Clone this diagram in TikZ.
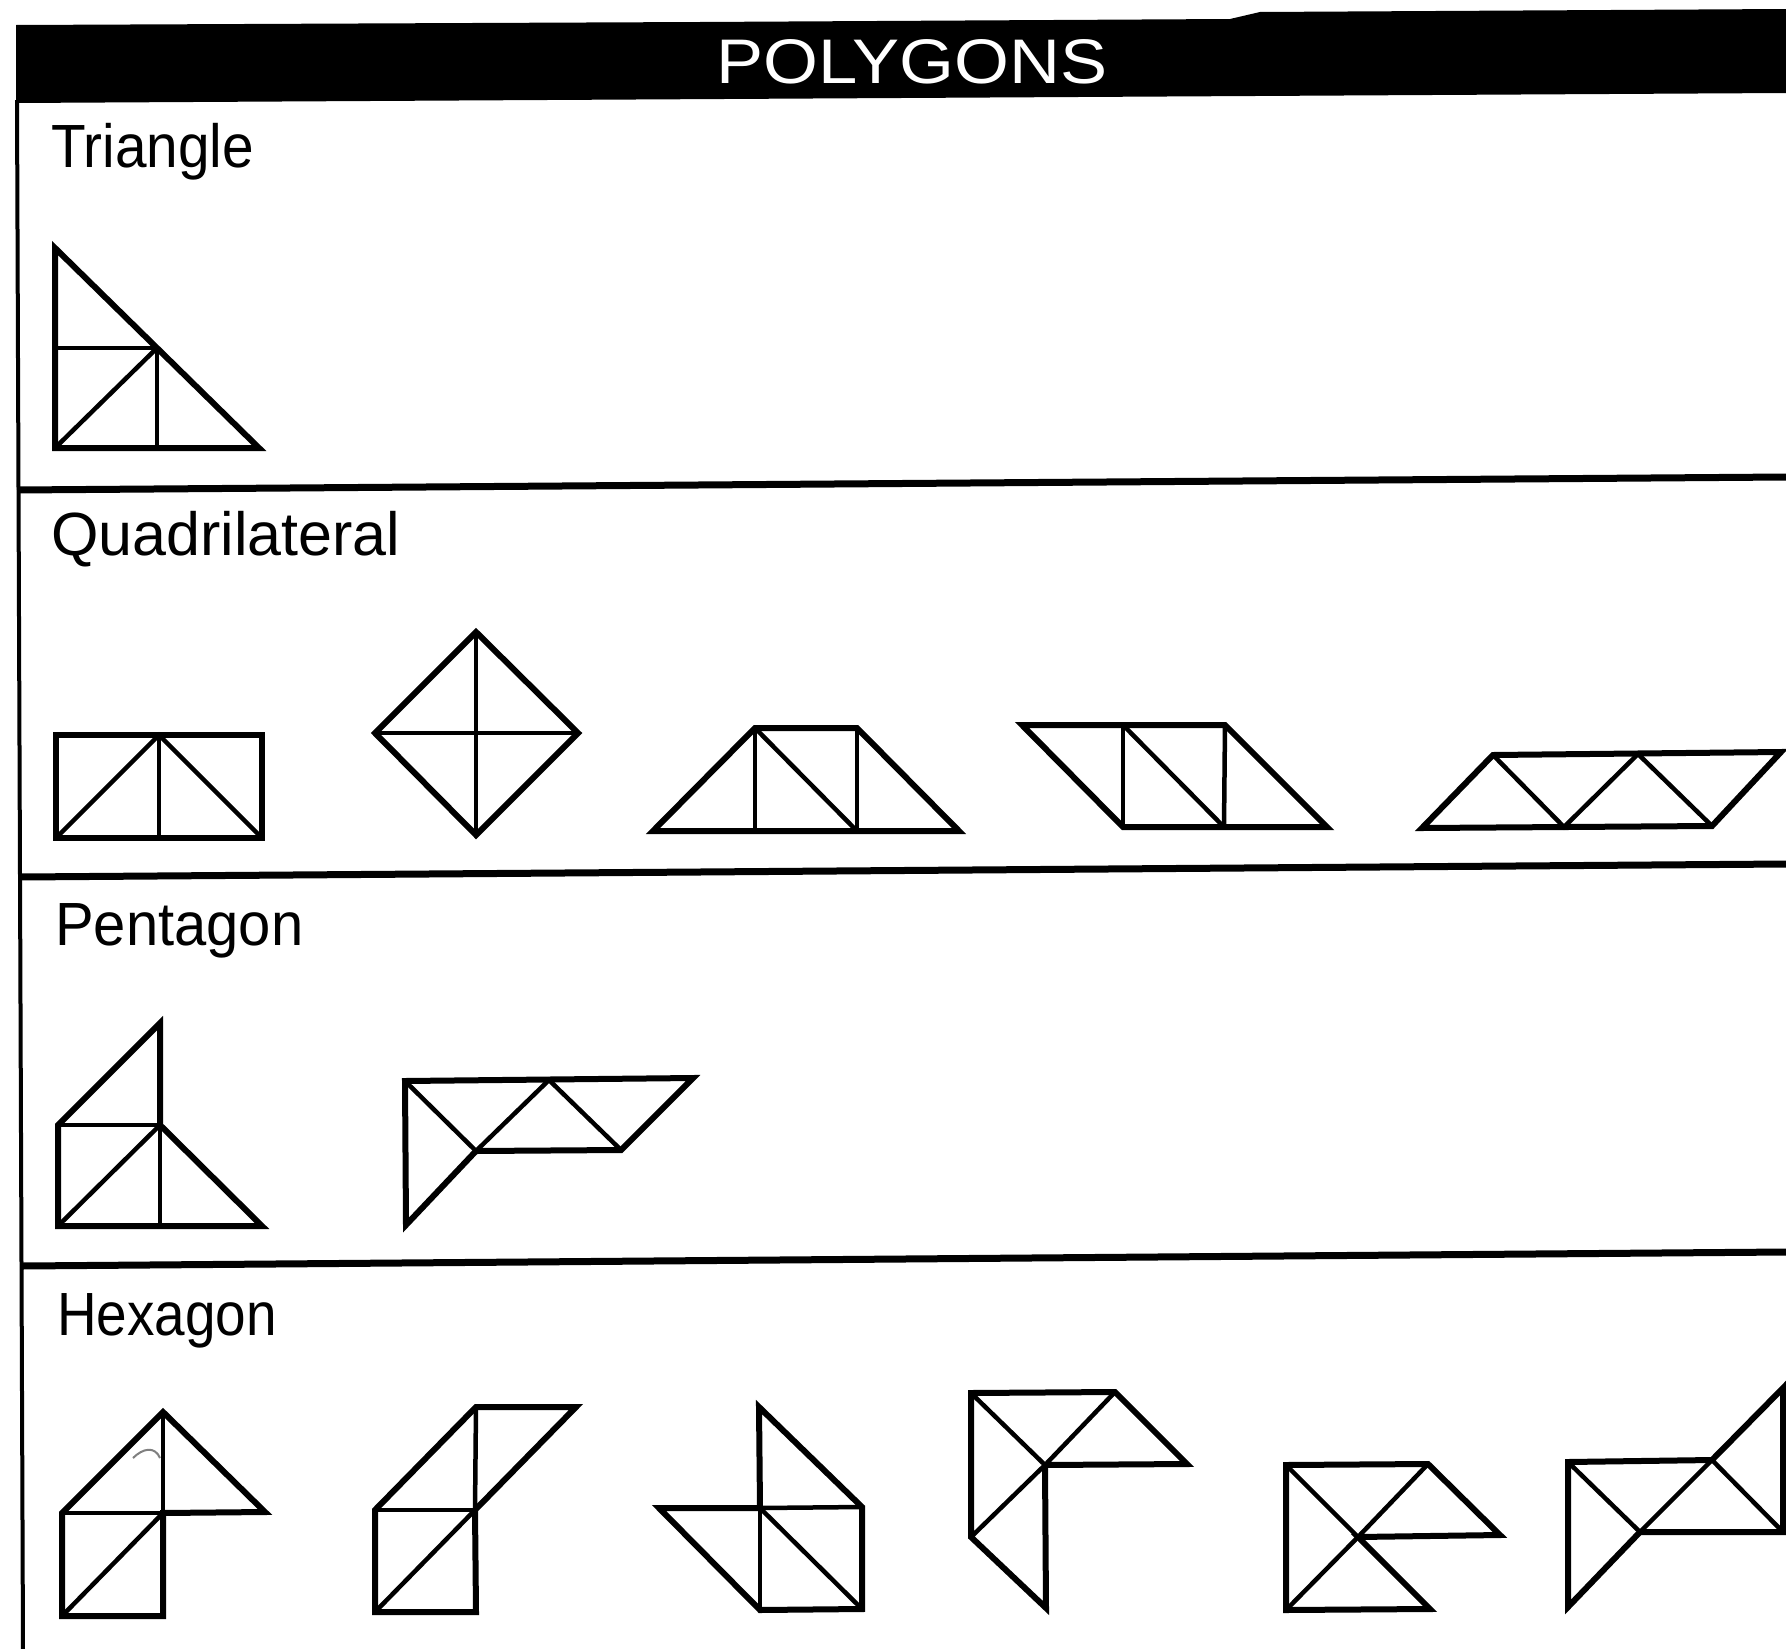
\documentclass[tikz,border=0pt]{standalone}
\usepackage{fontspec}
\usepackage{graphicx}
\setmainfont{Liberation Sans}
\tikzset{
  outer/.style={line width=6pt, line join=miter, line cap=butt},
  inner/.style={line width=4.5pt, line cap=round},
  rule/.style={line width=7pt},
  sectlabel/.style={anchor=base west, inner sep=0pt, font=\fontsize{61}{70}\selectfont},
  titletext/.style={anchor=base, inner sep=0pt, text=white, font=\fontsize{63}{72}\selectfont}
}
\begin{document}
\begin{tikzpicture}[x=1pt, y=-1pt]
\clip (0,0) rectangle (1786,1649);
\fill[white] (0,0) rectangle (1786,1649);

% header bar
\fill[black] (16,25) -- (700,22) -- (1230,19) -- (1260,12) -- (1786,9) -- (1786,93) -- (16,103) -- cycle;
\node[titletext] (title) at (912,83) {\scalebox{1.12}[1]{POLYGONS}};

% frame: left border and section rules
\draw[line width=4pt] (17,100) -- (23,1649);
\draw[rule] (17,490) -- (1786,477);
\draw[rule] (20,877) -- (1786,864);
\draw[rule] (22,1266) -- (1786,1252);

% labels
\node[sectlabel] (ltri) at (51,167) {\scalebox{0.93}[1]{Triangle}};
\node[sectlabel] (lquad) at (51,555) {Quadrilateral};
\node[sectlabel] (lpent) at (55,945) {\scalebox{0.95}[1]{Pentagon}};
\node[sectlabel] (lhex) at (57,1335) {\scalebox{0.9}[1]{Hexagon}};

% ---- Triangle ----
\draw[outer] (55,248) -- (55,448) -- (259,448) -- cycle;
\draw[inner] (55,348) -- (157,348) -- (157,448);
\draw[inner] (55,448) -- (157,348);

% ---- Quadrilaterals ----
% Q1 rectangle
\draw[outer] (56,735) -- (262,735) -- (262,838) -- (56,838) -- cycle;
\draw[inner] (159,735) -- (159,838);
\draw[inner] (56,838) -- (159,735) -- (262,838);
% Q2 diamond
\draw[outer] (476,632) -- (578,733) -- (476,835) -- (375,733) -- cycle;
\draw[inner] (476,632) -- (476,835);
\draw[inner] (375,733) -- (578,733);
% Q3 trapezoid
\draw[outer] (653,831) -- (755,728) -- (857,728) -- (959,831) -- cycle;
\draw[inner] (755,728) -- (755,831);
\draw[inner] (755,728) -- (857,831);
\draw[inner] (857,728) -- (857,831);
% Q4 parallelogram
\draw[outer] (1022,725) -- (1225,725) -- (1327,827) -- (1123,827) -- cycle;
\draw[inner] (1123,725) -- (1123,827);
\draw[inner] (1123,725) -- (1224,827);
\draw[inner] (1225,725) -- (1224,827);
% Q5 parallelogram
\draw[outer] (1422,828) -- (1493,755) -- (1781,752) -- (1712,826) -- cycle;
\draw[inner] (1493,755) -- (1564,827) -- (1638,754) -- (1712,826);

% ---- Pentagons ----
\draw[outer] (58,1125) -- (160,1023) -- (160,1125) -- (262,1226) -- (58,1226) -- cycle;
\draw[inner] (58,1125) -- (160,1125) -- (160,1226);
\draw[inner] (58,1226) -- (160,1125);

\draw[outer] (405,1081) -- (693,1078) -- (621,1150) -- (476,1151) -- (406,1225) -- cycle;
\draw[inner] (405,1081) -- (476,1151) -- (549,1080) -- (621,1150);

% ---- Hexagons ----
% H1
\draw[outer] (163,1412) -- (265,1512) -- (163,1513) -- (163,1616) -- (62,1616) -- (62,1513) -- cycle;
\draw[inner] (62,1513) -- (163,1513);
\draw[inner] (163,1412) -- (163,1513);
\draw[inner] (62,1616) -- (163,1513);
\draw[line width=2pt, gray] (133,1458) .. controls (143,1448) and (155,1446) .. (160,1458);
% H2
\draw[outer] (476,1407) -- (576,1407) -- (475,1510) -- (476,1612) -- (375,1612) -- (375,1510) -- cycle;
\draw[inner] (375,1510) -- (475,1510);
\draw[inner] (476,1407) -- (475,1510);
\draw[inner] (375,1612) -- (475,1510);
% H3
\draw[outer] (759,1407) -- (862,1507) -- (862,1609) -- (760,1610) -- (659,1508) -- (760,1508) -- cycle;
\draw[inner] (760,1508) -- (862,1507);
\draw[inner] (760,1508) -- (760,1610);
\draw[inner] (760,1508) -- (862,1609);
% H4
\draw[outer] (971,1393) -- (1115,1392) -- (1187,1464) -- (1045,1465) -- (1046,1608) -- (971,1537) -- cycle;
\draw[inner] (971,1393) -- (1045,1465) -- (1115,1392);
\draw[inner] (971,1537) -- (1045,1465);
% H5
\draw[outer] (1286,1465) -- (1428,1464) -- (1500,1535) -- (1358,1537) -- (1430,1609) -- (1286,1610) -- cycle;
\draw[inner] (1286,1465) -- (1358,1537);
\draw[inner] (1428,1464) -- (1358,1537) -- (1286,1610);
% H6
\draw[outer] (1568,1462) -- (1712,1460) -- (1783,1388) -- (1783,1532) -- (1640,1532) -- (1568,1607) -- cycle;
\draw[inner] (1568,1462) -- (1640,1532) -- (1712,1460) -- (1783,1532);
\end{tikzpicture}
\end{document}
